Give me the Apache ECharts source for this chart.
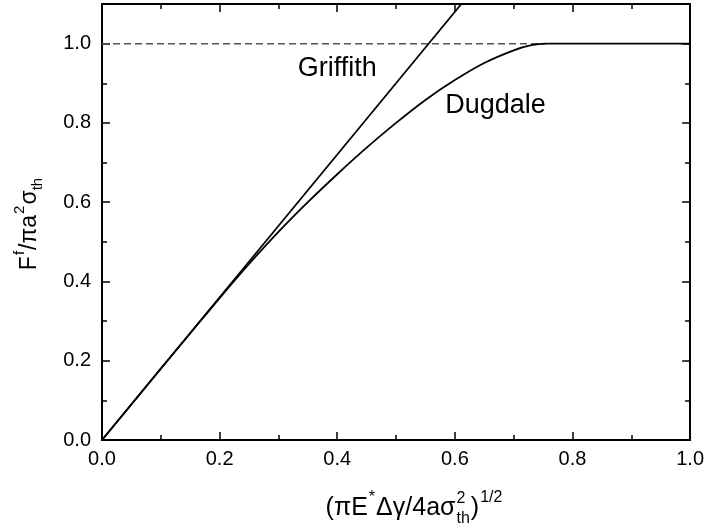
<!DOCTYPE html>
<html>
<head>
<meta charset="utf-8">
<script src="https://cdn.jsdelivr.net/npm/echarts@6/dist/echarts.min.js"></script>
<style>
  html, body { margin: 0; padding: 0; background: #fff; }
  #chart { width: 707px; height: 526px; }
</style>
</head>
<body>
<div id="chart"></div>
<script>
// Pull-off force vs. normalised adhesion parameter: Griffith and Dugdale models
var griffithX = [0, 0.611];
var griffithY = [0, 1.1];

var dugdaleX = [0, 0.1, 0.15, 0.2, 0.25, 0.3, 0.35, 0.4, 0.45, 0.5, 0.55, 0.6, 0.65, 0.7, 0.73, 0.754, 0.85, 1.0];
var dugdaleY = [0, 0.18, 0.269, 0.358, 0.444, 0.525, 0.600, 0.6705, 0.7375, 0.800, 0.858, 0.908, 0.951, 0.983, 0.996, 1.0, 1.0, 1.0];

var limitX = [0, 0.754];
var limitY = [1.0, 1.0];

var xTickLabels = ['0.0', '0.2', '0.4', '0.6', '0.8', '1.0'];
var yTickLabels = ['0.0', '0.2', '0.4', '0.6', '0.8', '1.0'];

var FONT = '"Liberation Sans", Arial, sans-serif';

function pairs(xs, ys) {
  return xs.map(function (x, i) { return [x, ys[i]]; });
}

var black = '#000';
var lineW = 2;

function xAx(pos, major, labels) {
  return {
    type: 'value', min: 0, max: 1, interval: major ? 0.2 : 0.1, position: pos,
    axisLine: { show: true, onZero: false, lineStyle: { color: black, width: lineW } },
    axisTick: { show: true, inside: true, length: major ? 8 : 5, lineStyle: { color: black, width: 1.5 } },
    axisLabel: labels ? {
      show: true, margin: 9, color: black, fontSize: 20, fontFamily: FONT,
      formatter: function (v) { return xTickLabels[Math.round(v / 0.2)] || ''; }
    } : { show: false },
    splitLine: { show: false }
  };
}
function yAx(pos, major, labels) {
  return {
    type: 'value', min: 0, max: 1.1, interval: major ? 0.2 : 0.1, position: pos,
    axisLine: { show: true, onZero: false, lineStyle: { color: black, width: lineW } },
    axisTick: { show: true, inside: true, length: major ? 8 : 5, lineStyle: { color: black, width: 1.5 } },
    axisLabel: labels ? {
      show: true, margin: 11, color: black, fontSize: 20, fontFamily: FONT, showMaxLabel: false,
      formatter: function (v) {
        var k = Math.round(v / 0.2);
        return Math.abs(k * 0.2 - v) < 1e-6 ? (yTickLabels[k] || '') : '';
      }
    } : { show: false },
    splitLine: { show: false }
  };
}

var chart = echarts.init(document.getElementById('chart'), null, { renderer: 'canvas' });

chart.setOption({
  animation: false,
  backgroundColor: '#fff',
  grid: { left: 102, right: 15, top: 4, bottom: 86, containLabel: false },
  xAxis: [xAx('bottom', true, true), xAx('bottom', false, false), xAx('top', true, false), xAx('top', false, false)],
  yAxis: [yAx('left', true, true), yAx('left', false, false), yAx('right', true, false), yAx('right', false, false)],
  series: [
    {
      type: 'line', xAxisIndex: 0, yAxisIndex: 0, data: pairs(limitX, limitY),
      symbol: 'none', lineStyle: { color: '#555', width: 1.5, type: [7, 4] }, z: 2
    },
    {
      type: 'line', name: 'Griffith', xAxisIndex: 0, yAxisIndex: 0, data: pairs(griffithX, griffithY),
      symbol: 'none', lineStyle: { color: black, width: 1.8 }, z: 3
    },
    {
      type: 'line', name: 'Dugdale', xAxisIndex: 0, yAxisIndex: 0, data: pairs(dugdaleX, dugdaleY),
      symbol: 'none', smooth: 0.35, lineStyle: { color: black, width: 1.8 }, z: 3
    }
  ]
});

// Canvas context used to measure text runs for the composed axis titles
var measureCtx = document.createElement('canvas').getContext('2d');
function textWidth(t, size) {
  measureCtx.font = size + 'px ' + FONT;
  return measureCtx.measureText(t).width;
}

// Lay out a run list (text, size, baseline shift, stack flag) along a baseline
function layoutRuns(runs) {
  var out = [], x = 0, lastW = 0;
  runs.forEach(function (r) {
    var w = textWidth(r.t, r.size);
    var px = r.stack ? x - lastW : x + (r.gap || 0);
    out.push({ t: r.t, size: r.size, x: px, dy: r.dy || 0 });
    if (r.stack) { x = px + Math.max(lastW, w); } else { x = px + w; lastW = w; }
  });
  return { items: out, width: x };
}

function runElements(layout, offsetX) {
  return layout.items.map(function (it) {
    return {
      type: 'text',
      x: offsetX + it.x,
      y: it.dy - 0.33 * it.size,
      style: {
        text: it.t, fill: black, fontSize: it.size, fontFamily: FONT,
        textAlign: 'left', textVerticalAlign: 'middle'
      }
    };
  });
}

var xTitle = layoutRuns([
  { t: '(πE', size: 25 },
  { t: '*', size: 16, dy: -13, gap: 1 },
  { t: 'Δγ/4aσ', size: 25, gap: 1 },
  { t: '2', size: 16, dy: -12, gap: 1 },
  { t: 'th', size: 16, dy: 8, stack: true },
  { t: ')', size: 25, gap: 1 },
  { t: '1/2', size: 16, dy: -13, gap: 1 }
]);

var yTitle = layoutRuns([
  { t: 'F', size: 23 },
  { t: 'f', size: 15, dy: -12, gap: 1 },
  { t: '/πa', size: 23, gap: 1 },
  { t: '2', size: 15, dy: -12, gap: 1 },
  { t: 'σ', size: 23, gap: 1 },
  { t: 'th', size: 15, dy: 6 }
]);

var griffithPos = chart.convertToPixel({ xAxisIndex: 0, yAxisIndex: 0 }, [0.400, 0.936]);
var dugdalePos = chart.convertToPixel({ xAxisIndex: 0, yAxisIndex: 0 }, [0.669, 0.843]);

chart.setOption({
  graphic: [
    {
      type: 'text', x: griffithPos[0], y: griffithPos[1],
      style: { text: 'Griffith', fill: black, fontSize: 27, fontFamily: FONT, textAlign: 'center', textVerticalAlign: 'middle' }
    },
    {
      type: 'text', x: dugdalePos[0], y: dugdalePos[1],
      style: { text: 'Dugdale', fill: black, fontSize: 27, fontFamily: FONT, textAlign: 'center', textVerticalAlign: 'middle' }
    },
    {
      type: 'group', x: 414 - xTitle.width / 2, y: 516,
      children: runElements(xTitle, 0)
    },
    {
      type: 'group', x: 37, y: 224, rotation: Math.PI / 2,
      children: runElements(yTitle, -yTitle.width / 2)
    }
  ]
});
</script>
</body>
</html>
